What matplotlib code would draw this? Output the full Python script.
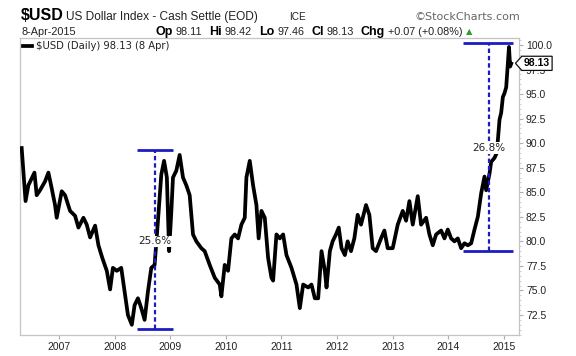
import matplotlib
matplotlib.use("Agg")
import matplotlib.pyplot as plt
from matplotlib.path import Path
import matplotlib.transforms as mtransforms
import numpy as np

# daily close of $USD (decimal year, index value)
dates = [
    2006.33, 2006.36, 2006.40, 2006.45, 2006.51, 2006.56, 2006.60, 2006.66, 2006.75, 2006.81,
    2006.87, 2006.93, 2006.96, 2007.05, 2007.11, 2007.20, 2007.29, 2007.35, 2007.44, 2007.50,
    2007.56, 2007.65, 2007.71, 2007.78, 2007.86, 2007.92, 2007.97, 2008.04, 2008.12, 2008.18,
    2008.24, 2008.31, 2008.36, 2008.42, 2008.48, 2008.54, 2008.60, 2008.66, 2008.72, 2008.78,
    2008.84, 2008.89, 2008.94, 2008.98, 2009.02, 2009.05, 2009.11, 2009.17, 2009.23, 2009.29,
    2009.35, 2009.41, 2009.47, 2009.56, 2009.62, 2009.71, 2009.80, 2009.89, 2009.92, 2009.98,
    2010.04, 2010.10, 2010.16, 2010.22, 2010.28, 2010.34, 2010.37, 2010.43, 2010.49, 2010.55,
    2010.59, 2010.64, 2010.70, 2010.76, 2010.82, 2010.85, 2010.91, 2010.97, 2011.03, 2011.09,
    2011.18, 2011.27, 2011.33, 2011.39, 2011.48, 2011.54, 2011.60, 2011.66, 2011.72, 2011.78,
    2011.81, 2011.87, 2011.92, 2011.98, 2012.03, 2012.08, 2012.14, 2012.19, 2012.25, 2012.31,
    2012.37, 2012.43, 2012.52, 2012.58, 2012.64, 2012.70, 2012.79, 2012.85, 2012.91, 2013.00,
    2013.09, 2013.18, 2013.24, 2013.30, 2013.36, 2013.45, 2013.51, 2013.60, 2013.66, 2013.72,
    2013.78, 2013.87, 2013.93, 2013.99, 2014.05, 2014.11, 2014.17, 2014.23, 2014.29, 2014.35,
    2014.41, 2014.47, 2014.53, 2014.59, 2014.65, 2014.68, 2014.74, 2014.77, 2014.83, 2014.87,
    2014.89, 2014.92, 2014.95, 2014.98, 2015.01, 2015.04, 2015.07, 2015.09, 2015.11, 2015.13,
]
closes = [
    89.5, 87.2, 84.1, 85.7, 86.4, 87.0, 84.7, 85.2, 86.1, 87.0,
    85.4, 83.7, 82.4, 85.1, 84.7, 83.1, 82.6, 81.4, 82.4, 81.7,
    80.4, 81.6, 79.6, 78.3, 77.0, 75.1, 77.3, 77.0, 77.3, 74.9,
    72.5, 71.5, 73.5, 74.2, 73.2, 72.0, 74.9, 77.3, 77.6, 82.1,
    86.8, 88.2, 86.5, 79.0, 83.0, 86.5, 87.2, 88.8, 86.5, 85.7,
    84.7, 80.7, 80.0, 79.3, 79.0, 77.6, 76.3, 75.6, 74.4, 77.6,
    77.0, 80.3, 80.7, 80.3, 81.7, 82.4, 86.5, 88.2, 85.7, 83.7,
    80.3, 83.1, 82.4, 78.3, 76.3, 76.0, 80.7, 80.3, 80.7, 78.6,
    77.3, 75.6, 73.2, 75.6, 75.3, 75.6, 74.2, 74.2, 79.0, 77.0,
    75.3, 79.0, 80.0, 80.7, 81.4, 79.3, 78.6, 80.0, 79.0, 80.3,
    82.7, 81.7, 83.7, 82.7, 79.3, 79.0, 80.3, 81.1, 79.3, 79.3,
    81.7, 83.1, 82.1, 84.1, 81.7, 84.6, 81.7, 82.4, 80.7, 79.6,
    80.7, 81.1, 80.3, 81.2, 80.3, 80.0, 80.3, 79.3, 79.8, 79.6,
    79.8, 81.2, 82.5, 84.9, 86.6, 85.2, 86.9, 88.1, 88.5, 89.0,
    90.3, 92.4, 93.1, 94.7, 95.1, 95.7, 98.1, 99.8, 97.8, 98.1,
]
last_close = 98.13

# the two rallies marked on the chart
swing_left = [2008.40, 2014.26]
swing_right = [2009.05, 2015.17]
swing_mid = [2008.72, 2014.73]
swing_low = [71.1, 79.0]
swing_high = [89.3, 100.2]
swing_text_y = [80.0, 89.5]

years = list(range(2007, 2016))
yticks = np.arange(72.5, 100.01, 2.5)

W, H = 576, 356
blue = "#1c1cc4"
sans = "Liberation Sans"


def tag_box(x0, y0, width, height, mutation_size):
    pad = 0.2 * mutation_size
    x0, y0 = x0 - pad, y0 - pad
    width, height = width + 2 * pad, height + 2 * pad
    tip = height * 0.45
    verts = [(x0 - tip, y0 + height / 2), (x0, y0), (x0 + width, y0),
             (x0 + width, y0 + height), (x0, y0 + height),
             (x0 - tip, y0 + height / 2)]
    return Path(verts, closed=True)


fig = plt.figure(figsize=(W / 100, H / 100), dpi=100)
ax = fig.add_axes([20 / W, 1 - 335 / H, 499 / W, 297 / H])

ax.plot(dates, closes, color="black", lw=2.7, solid_joinstyle="round", zorder=3,
        label="$USD (Daily) 98.13 (8 Apr)".replace("$", r"\$"))

for i in range(len(swing_mid)):
    ax.hlines([swing_low[i], swing_high[i]], swing_left[i], swing_right[i],
              color=blue, lw=2, zorder=4)
    ax.vlines(swing_mid[i], swing_low[i], swing_high[i], color=blue, lw=1.6,
              linestyles=(0, (2, 1.3)), zorder=4)
    pct = (swing_high[i] / swing_low[i] - 1) * 100
    ax.text(swing_mid[i], swing_text_y[i], f"{pct:.1f}%", ha="center", va="center",
            fontsize=7.5, family="DejaVu Sans", color="#222222", zorder=5,
            bbox=dict(facecolor="white", edgecolor="none", pad=0.6))

ax.set_xlim(2006.30, 2015.27)
ax.set_ylim(70.46, 100.71)
ax.set_xticks(years)
ax.set_xticklabels([str(y) for y in years])
ax.yaxis.tick_right()
ax.set_yticks(yticks)
ax.yaxis.set_major_formatter("{x:.1f}")
ax.set_yticks(np.arange(70.5, 100.71, 0.5), minor=True)
ax.tick_params(axis="both", which="major", length=3, width=0.8, color="#b0b0b0",
               labelsize=7.5, labelcolor="#222222", pad=2)
ax.tick_params(axis="y", which="minor", length=1.5, width=0.6, color="#c8c8c8")
for lab in ax.get_xticklabels() + ax.get_yticklabels():
    lab.set_family(sans)
for s in ax.spines.values():
    s.set_color("#c4c4c4")
    s.set_linewidth(0.9)

leg = ax.legend(loc="upper left", frameon=False, handlelength=0.9, handletextpad=0.4,
                borderaxespad=0.1, borderpad=0.2, prop=dict(family="DejaVu Sans", size=7.2))
for t in leg.get_texts():
    t.set_color("#222222")

trans = mtransforms.blended_transform_factory(ax.transAxes, ax.transData)
ax.text(1.036, last_close, f"{last_close:.2f}", transform=trans, ha="center", va="center",
        fontsize=7.5, fontweight="bold", family=sans, clip_on=False, zorder=10,
        bbox=dict(boxstyle=tag_box, facecolor="white", edgecolor="#111111", lw=0.9))

# header
fig.text(21 / W, 1 - 20 / H, "$USD", fontsize=11.5, fontweight="bold", family=sans)
fig.text(66 / W, 1 - 20 / H, "US Dollar Index - Cash Settle (EOD)", fontsize=8.6, family=sans,
         color="#222222")
fig.text(289 / W, 1 - 20 / H, "ICE", fontsize=7.2, family=sans, color="#222222")
fig.text(520 / W, 1 - 20 / H, "\u00a9StockCharts.com", fontsize=8, family="DejaVu Sans",
         color="#666666", ha="right")
fig.text(21 / W, 1 - 35 / H, "8-Apr-2015", fontsize=7.8, family=sans, color="#222222")

renderer = fig.canvas.get_renderer()
pieces = [("Op", "bold", "black"), ("98.11", "normal", "#222222"),
          ("Hi", "bold", "black"), ("98.42", "normal", "#222222"),
          ("Lo", "bold", "black"), ("97.46", "normal", "#222222"),
          ("Cl", "bold", "black"), ("98.13", "normal", "#222222"),
          ("Chg", "bold", "black"), ("+0.07 (+0.08%)", "normal", "#222222")]
x = 155
for k, (s, weight, col) in enumerate(pieces):
    size = 9 if weight == "bold" else 7.8
    t = fig.text(x / W, 1 - 35 / H, s, fontsize=size, fontweight=weight, family=sans, color=col)
    bb = t.get_window_extent(renderer)
    x = bb.x1 + (3 if weight == "bold" else 7)
fig.text((x - 4) / W, 1 - 34.5 / H, "\u25b2", fontsize=6, family="DejaVu Sans", color="#2e9e2e")

fig.savefig("out.png", dpi=100)
